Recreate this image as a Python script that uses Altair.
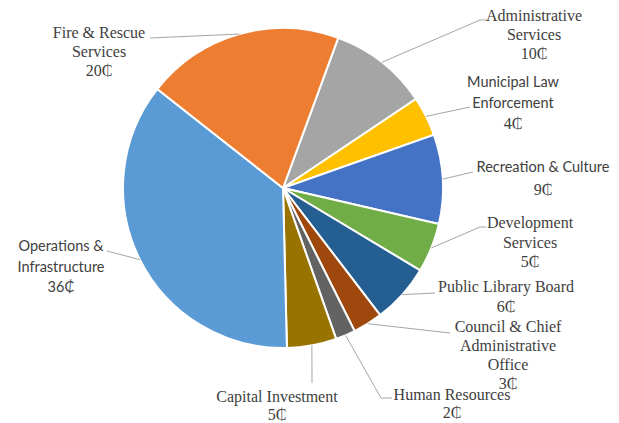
import math
import altair as alt
import pandas as pd

# ---- data ----
categories = ["Administrative Services", "Municipal Law Enforcement", "Recreation & Culture",
              "Development Services", "Public Library Board", "Council & Chief Administrative Office",
              "Human Resources", "Capital Investment", "Operations & Infrastructure",
              "Fire & Rescue Services"]
values = [10, 4, 9, 5, 6, 3, 2, 5, 36, 20]
colors = ["#A5A5A5", "#FFC000", "#4472C4", "#70AD47", "#255E91", "#9E480E",
          "#636363", "#997300", "#5B9BD5", "#ED7D31"]

label_lines = [
    ["Administrative", "Services", "10\u20b5"],
    ["Municipal Law", "Enforcement", "4\u20b5"],
    ["Recreation & Culture", "9\u20b5"],
    ["Development", "Services", "5\u20b5"],
    ["Public Library Board", "6\u20b5"],
    ["Council & Chief", "Administrative", "Office", "3\u20b5"],
    ["Human Resources", "2\u20b5"],
    ["Capital Investment", "5\u20b5"],
    ["Operations &", "Infrastructure", "36\u20b5"],
    ["Fire & Rescue", "Services", "20\u20b5"],
]
sans_labels = [False, True, True, False, False, False, False, False, True, False]

# ---- layout (page pixel coordinates) ----
cx, cy, R = 283, 188, 160
start_deg = 20.2
label_cx = [534, 513, 543, 530, 506, 508, 452, 277, 61, 99]
label_top = [16, 83, 168, 223, 287, 327, 395, 397, 247, 33]
line_step = [19, 20.5, 22, 19.5, 20, 19, 18, 18, 20.5, 19]
leader_ends = [
    [(480, 20), (487, 20)],
    [(470, 107)],
    [(473, 172)],
    [(480, 227), (486, 227)],
    [(435, 293)],
    [(450, 333)],
    [(381, 398), (392, 398)],
    [(312, 383)],
    [(107, 251)],
    [(150, 38)],
]

W, H = 603, 414
total = sum(values)

pie_df = pd.DataFrame({"cat": categories, "value": values, "idx": list(range(len(values)))})

text_rows = []
for i, lines in enumerate(label_lines):
    for j, t in enumerate(lines):
        is_value = j == len(lines) - 1
        sans = sans_labels[i] and (not is_value or i == 8)
        text_rows.append({"x": label_cx[i], "y": label_top[i] + j * line_step[i],
                          "t": t, "font": "sans" if sans else "serif"})
text_df = pd.DataFrame(text_rows)

line_rows = []
cum = 0
for i, v in enumerate(values):
    mid = math.radians(start_deg + (cum + v / 2) / total * 360)
    cum += v
    ex = cx + R * math.sin(mid)
    ey = cy - R * math.cos(mid)
    pts = [(ex, ey)] + leader_ends[i]
    for k, (px, py) in enumerate(pts):
        line_rows.append({"cat": categories[i], "k": k, "x": px, "y": py})
line_df = pd.DataFrame(line_rows)

xs = alt.Scale(domain=[8, 8 + W], nice=False, zero=False)
ys = alt.Scale(domain=[8, 8 + H], nice=False, zero=False, reverse=True)

a0 = math.radians(start_deg)
pie = alt.Chart(pie_df).mark_arc(outerRadius=R, stroke="white", strokeWidth=2).encode(
    theta=alt.Theta("value:Q", stack=True, scale=alt.Scale(range=[a0, a0 + 2 * math.pi])),
    color=alt.Color("cat:N", scale=alt.Scale(domain=categories, range=colors), legend=None),
    order=alt.Order("idx:Q"),
    x=alt.value(cx - 8),
    y=alt.value(cy - 8),
)

leaders = alt.Chart(line_df).mark_line(color="#A6A6A6", strokeWidth=1).encode(
    x=alt.X("x:Q", scale=xs, axis=None),
    y=alt.Y("y:Q", scale=ys, axis=None),
    detail="cat:N",
    order="k:Q",
)

serif_text = alt.Chart(text_df).transform_filter(alt.datum.font == "serif").mark_text(
    font="Liberation Serif", fontSize=16, color="#404040", align="center", baseline="middle"
).encode(x=alt.X("x:Q", scale=xs, axis=None), y=alt.Y("y:Q", scale=ys, axis=None), text="t:N")

sans_text = alt.Chart(text_df).transform_filter(alt.datum.font == "sans").mark_text(
    font="Lato", fontSize=14.5, color="#404040", align="center", baseline="middle"
).encode(x=alt.X("x:Q", scale=xs, axis=None), y=alt.Y("y:Q", scale=ys, axis=None), text="t:N")

chart = alt.layer(pie, leaders, serif_text, sans_text).properties(
    width=W, height=H, padding=0, autosize="none"
).configure_view(stroke=None)

chart.save("out.html", embed_options={"renderer": "svg", "actions": False})
